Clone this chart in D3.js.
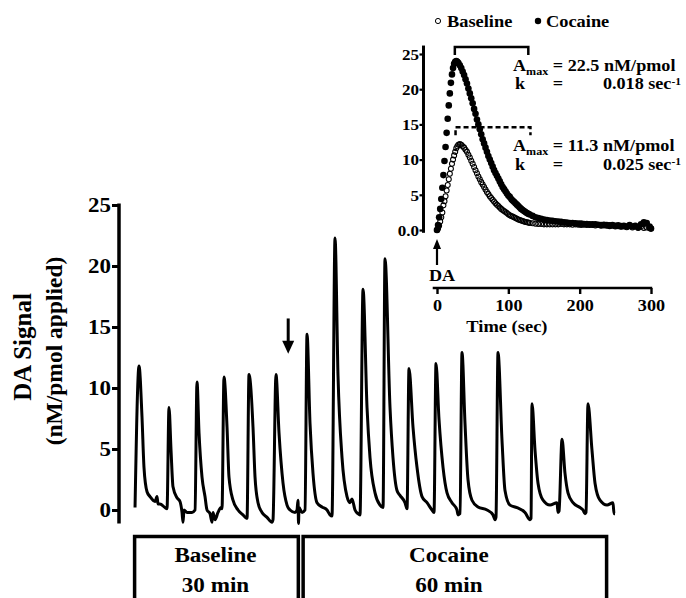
<!DOCTYPE html>
<html><head><meta charset="utf-8">
<script src="https://cdn.jsdelivr.net/npm/d3@7"></script>
<style>
body{margin:0;background:#fff}
svg{display:block}
text{font-family:"Liberation Serif","Times New Roman",serif;font-weight:bold;fill:#000}
</style></head><body>
<svg id="chart" width="686" height="598"></svg>
<script>
// ---------- main trace (time in min, DA signal nM/pmol applied) ----------
const traceMin = [0.38,1.13,1.69,2.06,2.63,3.19,4.13,4.5,4.69,5.06,6.0,6.38,
  6.75,7.13,7.5,8.25,8.81,9.19,9.38,9.56,10.13,11.06,11.63,
  12.0,12.38,12.94,13.5,13.88,14.44,14.81,15.0,15.38,15.94,16.5,16.69,
  17.06,17.63,18.0,18.75,19.69,20.63,21.38,
  21.75,22.5,22.88,23.44,24.19,25.13,26.06,26.25,
  26.81,27.38,28.13,28.88,29.44,30.38,30.75,30.94,31.03,31.13,31.69,32.25,
  32.63,33.19,33.75,34.5,35.44,36.38,36.94,37.31,
  37.88,38.44,39.19,40.13,40.69,41.06,41.63,42.19,42.56,
  43.13,43.88,44.44,45.38,46.31,46.88,
  47.25,48.19,48.75,49.5,50.06,51.0,51.38,
  51.75,52.5,53.25,54.19,55.13,56.06,56.44,
  56.81,57.38,58.13,58.88,59.81,60.75,60.94,61.31,
  61.69,62.25,62.81,63.56,64.69,66.38,67.5,67.88,68.06,
  68.44,69.19,69.75,70.69,72.0,73.5,74.44,74.63,
  74.81,75.38,75.94,76.88,78.19,79.5,79.69,79.88,
  80.44,81.0,81.56,82.5,83.81,84.38,84.75,84.94,
  85.31,86.06,86.63,87.56,88.88,90.0,90.19,90.38];
const traceSignal = [0.2,11.8,7.6,3.5,1.5,1.1,0.7,1.1,0.5,0.5,0.2,0.1,
  8.4,4.9,1.9,1.0,0.7,-0.2,-1.0,0.0,-0.2,-0.2,0,
  10.5,6.3,2.7,1.1,0,-0.3,-1.0,-0.2,-0.8,-0.2,0.2,0.1,
  10.9,6.8,2.7,0.8,0,-0.4,-0.7,
  11.1,6.8,2.7,0.6,-0.2,-0.6,-1.0,-0.8,
  11.1,6.3,2.2,0.4,0,-0.2,0.0,0.8,-1.1,0.2,-0.2,0,
  14.4,7.1,3.0,0.6,0.25,0,-0.4,-0.5,
  22.3,11.0,4.3,1.1,0.6,0.9,0,-0.3,-0.4,
  18.1,8.4,4.3,1.4,0.4,0.2,
  20.6,8.4,4.3,1.6,1.2,0.6,0.1,
  11.6,6.8,3.5,1.1,0.6,0,-0.2,
  12.0,7.4,3.5,1.4,0.6,0,-0.4,-0.3,
  12.9,7.1,2.5,0.8,0.25,0,-0.4,-0.8,-0.6,
  12.9,5.7,1.6,0.4,0.2,-0.2,-0.8,-0.7,
  8.7,4.9,2.2,0.8,0.4,0.6,-0.2,-0.1,
  5.8,3.0,1.4,0.6,0.2,0,-0.3,-0.2,
  8.7,4.9,2.2,0.8,0.4,0.6,-0.3,-0.3];
const mainYTicks = [0,5,10,15,20,25];
const mainYTitle = ["DA Signal","(nM/pmol applied)"];
const phaseNames = ["Baseline","Cocaine"];
const phaseDurations = ["30 min","60 min"];
const phaseStartMin = [0.3, 31.9];
const phaseEndMin = [31.0, 88.8];
const cocaineArrowMin = 29.1;
const cocaineArrowFrom = 15.7;
const cocaineArrowTo = 12.8;

// ---------- inset (time in sec) ----------
const insetTime = [0,1.5,3,4.5,6,7.5,9,10.5,12,13.5,15,16.5,18,19.5,21,22.5,24,25.5,27,28.5,30,
  32,34,36,38,40,42,44,46,48,50,52,54,56,58,60,62,64,66,68,70,72,74,76,78,80,
  82,84,86,88,90,92,94,96,98,100,102,104,106,108,110,112,114,116,118,120,122,124,126,128,130,
  134,138,142,146,150,154,158,162,166,170,174,178,182,186,190,194,198,202,206,210,
  214,218,222,226,230,234,238,242,246,250,254,258,262,266,270,274,278,282,286,290,294,298,300];
const insetBaseline = [0,0.2,0.6,1.2,1.8,2.5,3.5,4.1,4.8,5.6,6.4,7.2,8.0,8.7,9.4,10.0,10.6,11.1,11.6,11.9,12.1,
  12.2,12.1,11.9,11.7,11.4,11.1,10.7,10.3,9.85,9.4,8.95,8.5,8.05,7.6,7.2,6.8,6.45,6.1,5.75,5.4,5.1,4.8,4.55,4.3,4.05,
  3.8,3.6,3.4,3.2,3.0,2.85,2.7,2.55,2.4,2.25,2.1,2.0,1.9,1.8,1.7,1.6,1.5,1.42,1.35,1.28,1.2,1.15,1.1,1.05,1.0,
  0.95,0.9,0.85,0.85,0.8,0.8,0.8,0.8,0.8,0.8,0.85,0.8,0.8,0.8,0.75,0.8,0.75,0.7,0.75,0.7,
  0.7,0.7,0.65,0.7,0.6,0.65,0.6,0.55,0.6,0.5,0.55,0.45,0.5,0.4,0.55,0.35,0.5,0.3,0.45,0.3,0.35,0.25,0.2];
const insetCocaine = [0,0.7,1.8,3.0,4.4,6.0,7.8,9.8,11.8,13.8,15.8,17.7,19.4,20.9,22.1,23.0,23.6,23.9,24.0,23.9,23.7,
  23.4,23.0,22.5,22.0,21.4,20.8,20.1,19.4,18.7,18.0,17.2,16.5,15.7,15.0,14.3,13.6,12.9,12.3,11.7,11.1,10.5,10.0,9.5,9.0,8.5,
  8.1,7.7,7.3,6.9,6.5,6.1,5.8,5.5,5.2,4.9,4.7,4.4,4.2,4.0,3.8,3.6,3.4,3.2,3.0,2.85,2.7,2.55,2.4,2.3,2.2,
  2.0,1.8,1.7,1.6,1.5,1.4,1.35,1.3,1.25,1.2,1.15,1.1,1.05,1.0,1.0,0.95,0.9,0.9,0.85,0.85,
  0.8,0.8,0.8,0.75,0.7,0.75,0.7,0.65,0.7,0.6,0.65,0.55,0.6,0.5,0.7,0.5,0.6,0.4,0.8,1.1,1.0,0.5,0.2];
const insetYTicks = [0,5,10,15,20,25];
const insetXTicks = [0,100,200,300];
const legendNames = ["Baseline","Cocaine"];
const fitAmax = ["22.5","11.3"];
const fitK = ["0.018","0.025"];
const bracketStart = [25,26];
const bracketEnd = [128,131];
const bracketLevel = [26.0,14.6];

// ---------- drawing ----------
const svg = d3.select("#chart");
function txt(parent, x, y, str, size, anchor, sx) {
  return parent.append("text")
    .attr("transform", `translate(${x},${y}) scale(${sx === undefined ? 1.1 : sx},1)`)
    .attr("text-anchor", anchor || "start")
    .attr("font-size", size)
    .text(str);
}

// main scales
const x = d3.scaleLinear().domain([0, 90]).range([133, 613]);
const y = d3.scaleLinear().domain([0, 25]).range([510, 205]);

// main y axis
const gY = svg.append("g").attr("transform", "translate(119,0)");
gY.call(d3.axisLeft(y).tickValues(mainYTicks).tickSize(7).tickSizeOuter(0));
gY.attr("font-family", null).attr("font-size", null);
gY.select(".domain").remove();
gY.append("line").attr("x1", 0).attr("x2", 0)
  .attr("y1", y(-1.1)).attr("y2", y(25) - 1.5)
  .attr("stroke", "#000").attr("stroke-width", 3.5);
gY.selectAll(".tick line").attr("stroke", "#000").attr("stroke-width", 3);
gY.selectAll(".tick text").attr("font-size", 20.5).attr("x", -8 / 1.12)
  .attr("dy", "0.34em").attr("transform", "scale(1.12,1)");

// y title
svg.append("text").attr("transform", "translate(31,347) rotate(-90)")
  .attr("text-anchor", "middle").attr("font-size", 25).text(mainYTitle[0]);
svg.append("text").attr("transform", "translate(62,351) rotate(-90)")
  .attr("text-anchor", "middle").attr("font-size", 23.5).text(mainYTitle[1]);

// trace
const line = d3.line().x(d => x(d[0])).y(d => y(d[1])).curve(d3.curveMonotoneX);
svg.append("path").datum(d3.zip(traceMin, traceSignal))
  .attr("d", line).attr("fill", "none").attr("stroke", "#000")
  .attr("stroke-width", 3).attr("stroke-linejoin", "round");

// cocaine arrow
{
  const ax = x(cocaineArrowMin), y0 = y(cocaineArrowFrom), tip = y(cocaineArrowTo);
  svg.append("line").attr("x1", ax).attr("x2", ax).attr("y1", y0).attr("y2", tip - 10)
    .attr("stroke", "#000").attr("stroke-width", 3);
  svg.append("path").attr("d", `M${ax - 6},${tip - 13}L${ax + 6},${tip - 13}L${ax},${tip}Z`).attr("fill", "#000");
}

// phase boxes
phaseNames.forEach((name, i) => {
  const x0 = x(phaseStartMin[i]), x1 = x(phaseEndMin[i]);
  svg.append("rect").attr("x", x0).attr("y", 536.5).attr("width", x1 - x0).attr("height", 80)
    .attr("fill", "none").attr("stroke", "#000").attr("stroke-width", 3.5);
  const cx = (x0 + x1) / 2 - (i === 1 ? 6 : 1);
  txt(svg, cx, 562, name, 21, "middle");
  txt(svg, cx, 592, phaseDurations[i], 21, "middle");
});

// ---------- inset ----------
const ix = d3.scaleLinear().domain([0, 300]).range([437, 651]);
const iy = d3.scaleLinear().domain([0, 25]).range([230, 54]);
const axX = 423.5, axY = 288;

const giy = svg.append("g").attr("transform", `translate(${axX},0)`);
giy.call(d3.axisLeft(iy).tickValues(insetYTicks).tickSize(4).tickSizeOuter(0)
  .tickFormat(d => d === 0 ? "0.0" : d));
giy.attr("font-family", null).attr("font-size", null);
giy.select(".domain").remove();
giy.append("line").attr("y1", iy(-0.4)).attr("y2", iy(26.2)).attr("stroke", "#000").attr("stroke-width", 3);
giy.selectAll(".tick line").attr("stroke", "#000").attr("stroke-width", 2.2);
giy.selectAll(".tick text").attr("font-size", 15.5).attr("x", -4.5 / 1.1)
  .attr("dy", "0.34em").attr("transform", "scale(1.1,1)");

const gix = svg.append("g").attr("transform", `translate(0,${axY})`);
gix.call(d3.axisBottom(ix).tickValues(insetXTicks).tickSize(6).tickSizeOuter(0));
gix.attr("font-family", null).attr("font-size", null);
gix.select(".domain").remove();
gix.append("line").attr("x1", ix(-6)).attr("x2", ix(300) + 1.2).attr("stroke", "#000").attr("stroke-width", 2.6);
gix.selectAll(".tick line").attr("stroke", "#000").attr("stroke-width", 2.4);
gix.selectAll(".tick text").attr("font-size", 17).attr("y", 23).attr("dy", null)
  .attr("transform", "scale(1.07,1)");
txt(svg, ix(98), 332, "Time (sec)", 16.5, "middle", 1.12);

// DA arrow
{
  const ax0 = ix(0), tip = iy(0) + 9;
  svg.append("line").attr("x1", ax0).attr("x2", ax0).attr("y1", tip + 8).attr("y2", tip + 26)
    .attr("stroke", "#000").attr("stroke-width", 2.2);
  svg.append("path").attr("d", `M${ax0 - 4},${tip + 10}L${ax0 + 4},${tip + 10}L${ax0},${tip}Z`).attr("fill", "#000");
  txt(svg, ax0 + 5, 281, "DA", 16.5, "middle", 1.1);
}

// dots
const insetData = d3.range(insetTime.length).map(i => ({t: insetTime[i], b: insetBaseline[i], c: insetCocaine[i]}));
svg.append("g").selectAll("circle").data(insetData).join("circle")
  .attr("cx", d => ix(d.t)).attr("cy", d => iy(d.b)).attr("r", 2.5)
  .attr("fill", "none").attr("stroke", "#000").attr("stroke-width", 1.05);
svg.append("g").selectAll("circle").data(insetData).join("circle")
  .attr("cx", d => ix(d.t)).attr("cy", d => iy(d.c)).attr("r", 3.3).attr("fill", "#000");

// legend
svg.append("circle").attr("cx", 438).attr("cy", 21).attr("r", 2.6).attr("fill", "none").attr("stroke", "#000").attr("stroke-width", 1);
txt(svg, 447, 27, legendNames[0], 17.5, "start", 1.05);
svg.append("circle").attr("cx", 538).attr("cy", 21).attr("r", 3.2).attr("fill", "#000");
txt(svg, 546, 27, legendNames[1], 17.5, "start", 1.05);

// brackets + fit annotations
fitAmax.forEach((amax, i) => {
  const x0 = ix(bracketStart[i]), x1 = ix(bracketEnd[i]), yl = iy(bracketLevel[i]);
  svg.append("path").attr("d", `M${x0},${yl + 8}V${yl}H${x1}V${yl + 8}`)
    .attr("fill", "none").attr("stroke", "#000").attr("stroke-width", 2.5)
    .attr("stroke-dasharray", i === 1 ? "5,3" : null);
  const y1 = yl + 24, y2 = yl + 42.5;
  const a = svg.append("text").attr("transform", `translate(513,${y1}) scale(1.1,1)`).attr("font-size", 16.5);
  a.append("tspan").text("A");
  a.append("tspan").attr("font-size", 11).attr("dy", 4).text("max");
  a.append("tspan").attr("dy", -4).text(" = " + amax + " nM/pmol");
  svg.append("text").attr("transform", `translate(515,${y2}) scale(1.1,1)`).attr("font-size", 16.5).text("k");
  svg.append("text").attr("transform", `translate(558,${y2}) scale(1.1,1)`).attr("text-anchor", "middle").attr("font-size", 16.5).text("=");
  const kt = svg.append("text").attr("transform", `translate(681,${y2}) scale(1.1,1)`).attr("text-anchor", "end").attr("font-size", 16.5);
  kt.append("tspan").text(fitK[i] + " sec");
  kt.append("tspan").attr("font-size", 10.5).attr("dy", -4.5).text("-1");
});
</script>
</body></html>
